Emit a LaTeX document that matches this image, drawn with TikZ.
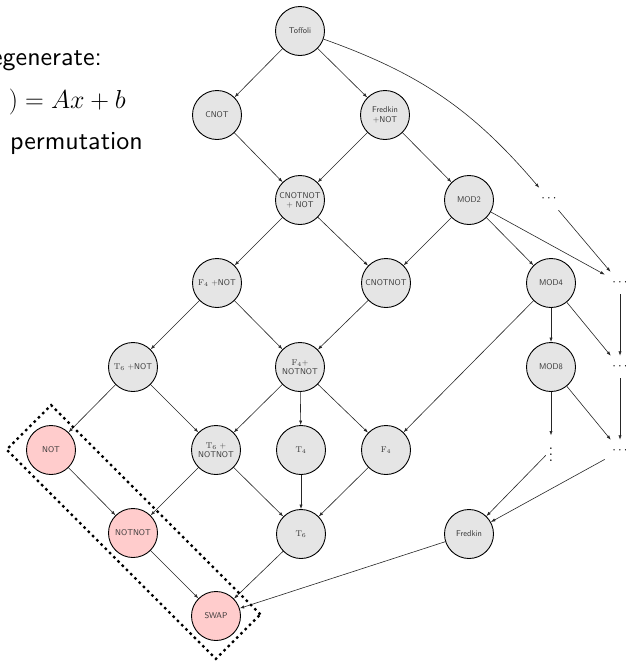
\RequirePackage{fix-cm}
\documentclass[tikz,border=0pt]{standalone}
\usepackage{fontspec}
\setsansfont{lmsans10-regular.otf}
\usepackage{graphicx}
\usetikzlibrary{arrows.meta}
\definecolor{nodegray}{HTML}{E5E5E5}
\definecolor{nodepink}{HTML}{FFCCCC}
\begin{document}
\begin{tikzpicture}[x=1pt,y=-1pt,
  gate/.style={circle, draw=black, line width=0.9pt, fill=nodegray, minimum size=49pt,
    inner sep=0pt, align=center, font=\sffamily\fontsize{8.4}{9.2}\selectfont, text=black!80},
  redgate/.style={gate, fill=nodepink},
  more/.style={rectangle, inner sep=0pt, minimum width=30pt, minimum height=22pt,
    font=\fontsize{13}{13}\selectfont},
  vmore/.style={rectangle, inner sep=3pt},
  link/.style={-{Latex[length=4.5pt,width=3.2pt]}, line width=0.6pt, draw=black!85},
  slogan/.style={font=\sffamily\fontsize{26}{30}\selectfont, inner sep=0pt},
  groupbox/.style={draw=black, line width=2.3pt, dash pattern=on 2.5pt off 3.5pt,
    rotate=-45, inner sep=0pt}
]
\useasboundingbox (0,0) rectangle (626,662);
\clip (0,0) rectangle (626,662);

% running text on the left
\node[slogan, anchor=base east] (t1) at (102,65) {egenerate:};
\node[slogan, anchor=base east] (t2) at (126,108) {$)=Ax+b$};
\node[slogan, anchor=base east] (t3) at (143,149) {a\hspace{4.5pt} permutation};

% gates
\node[gate] (toffoli) at (300,31) {Toffoli};
\node[gate] (cnot) at (217,115) {CNOT};
\node[gate] (fredkinnot) at (385,115) {Fredkin\\+NOT};
\node[gate] (cnotnotnot) at (300,200) {CNOTNOT\\+ NOT};
\node[gate] (mod2) at (469,200) {MOD2};
\node[more] (dotsA) at (549,199) {$\cdots$};
\node[gate] (f4not) at (217,283) {$\mathrm{F}_4$ +NOT};
\node[gate] (cnotnot) at (386,283) {CNOTNOT};
\node[gate] (mod4) at (551,283) {MOD4};
\node[more] (dotsB) at (620,283) {$\cdots$};
\node[gate] (t6not) at (133,367) {$\mathrm{T}_6$ +NOT};
\node[gate] (f4notnot) at (300,367) {$\mathrm{F}_4$+\\NOTNOT};
\node[gate] (mod8) at (551,367) {MOD8};
\node[more] (dotsC) at (620,367) {$\cdots$};
\node[redgate] (notg) at (51,450) {NOT};
\node[gate] (t6notnot) at (216,450) {$\mathrm{T}_6$ +\\NOTNOT};
\node[gate] (t4) at (301,450) {$\mathrm{T}_4$};
\node[gate] (f4) at (386,450) {$\mathrm{F}_4$};
\node[vmore] (vdotsA) at (551,450) {\scalebox{1.5}{$\vdots$}};
\node[more] (dotsD) at (620,451) {$\cdots$};
\node[redgate] (notnot) at (133,533) {NOTNOT};
\node[gate] (t6) at (301,534) {$\mathrm{T}_6$};
\node[gate] (fredkin) at (469,534) {Fredkin};
\node[redgate] (swap) at (216,616) {SWAP};

% inclusions
\draw[link] (toffoli) -- (cnot);
\draw[link] (toffoli) -- (fredkinnot);
\draw[link] (toffoli) to[bend left=15] (dotsA);
\draw[link] (cnot) -- (cnotnotnot);
\draw[link] (fredkinnot) -- (cnotnotnot);
\draw[link] (fredkinnot) -- (mod2);
\draw[link] (cnotnotnot) -- (f4not);
\draw[link] (cnotnotnot) -- (cnotnot);
\draw[link] (mod2) -- (cnotnot);
\draw[link] (mod2) -- (mod4);
\draw[link] (mod2) -- (dotsB);
\draw[link] (dotsA) -- (dotsB);
\draw[link] (f4not) -- (t6not);
\draw[link] (f4not) -- (f4notnot);
\draw[link] (cnotnot) -- (f4notnot);
\draw[link] (mod4) -- (mod8);
\draw[link] (mod4) -- (f4);
\draw[link] (mod4) -- (dotsC);
\draw[link] (dotsB) -- (dotsC);
\draw[link] (t6not) -- (notg);
\draw[link] (t6not) -- (t6notnot);
\draw[link] (f4notnot) -- (t6notnot);
\draw[link] (f4notnot) -- (t4);
\draw[link] (f4notnot) -- (f4);
\draw[link] (mod8) -- (vdotsA);
\draw[link] (mod8) -- (dotsD);
\draw[link] (dotsC) -- (dotsD);
\draw[link] (notg) -- (notnot);
\draw[link] (t6notnot) -- (notnot);
\draw[link] (t6notnot) -- (t6);
\draw[link] (t4) -- (t6);
\draw[link] (f4) -- (t6);
\draw[link] (vdotsA) -- (fredkin);
\draw[link] (dotsD) -- (fredkin);
\draw[link] (notnot) -- (swap);
\draw[link] (t6) -- (swap);
\draw[link] (fredkin) -- (swap);

% the group of bit permutations
\node[groupbox, minimum width=296pt, minimum height=63pt] (group) at (133.5,532) {};
\end{tikzpicture}
\end{document}
